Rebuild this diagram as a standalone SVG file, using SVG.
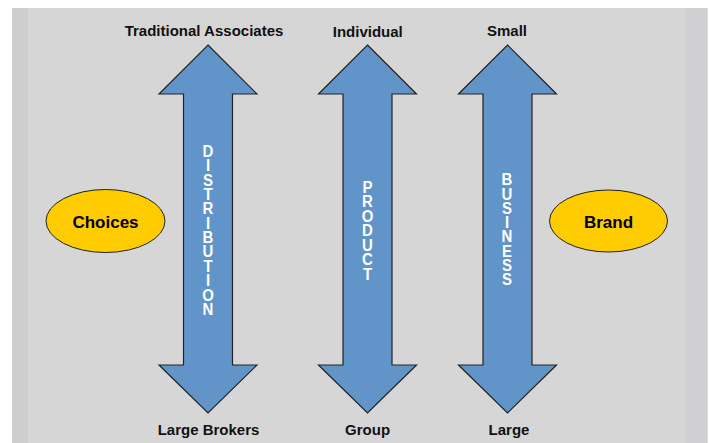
<svg xmlns="http://www.w3.org/2000/svg" width="709" height="443" viewBox="0 0 709 443">
<style>
.lbl{font-family:"Liberation Sans",Arial,sans-serif;font-weight:bold;font-size:15px;fill:#111;text-anchor:middle}
.vert{font-family:"Liberation Sans",Arial,sans-serif;font-weight:bold;font-size:15px;fill:#fff;text-anchor:middle}
.oval{fill:#FFCC00;stroke:#222;stroke-width:1}
.otxt{font-family:"Liberation Sans",Arial,sans-serif;font-weight:bold;font-size:17px;fill:#000;text-anchor:middle}
.arrow{fill:#6194C9;stroke:#222;stroke-width:1.2;stroke-linejoin:miter}
</style>
<defs>
<path id="darrow" class="arrow" d="M0,45 L49,94 L24.5,94 L24.5,365 L49,365 L0,413 L-49,365 L-24.5,365 L-24.5,94 L-49,94 Z"/>
</defs>
<rect x="0" y="0" width="709" height="443" fill="#ffffff"/>
<rect x="12" y="8" width="695.5" height="435" fill="#D6D6D6"/>
<rect x="12" y="8" width="16" height="435" fill="#CECED1"/>
<rect x="685.5" y="8" width="22" height="435" fill="#D0D0D2"/>

<g id="connectors">
<use href="#darrow" x="208" y="0"/>
<use href="#darrow" x="367.5" y="0"/>
<use href="#darrow" x="507.5" y="0"/>
</g>

<g id="distribution">
<text class="vert" transform="translate(208,157) scale(1,1.12)"><tspan x="0" y="0">D</tspan><tspan x="0" dy="12.82">I</tspan><tspan x="0" dy="12.82">S</tspan><tspan x="0" dy="12.82">T</tspan><tspan x="0" dy="12.82">R</tspan><tspan x="0" dy="12.82">I</tspan><tspan x="0" dy="12.82">B</tspan><tspan x="0" dy="12.82">U</tspan><tspan x="0" dy="12.82">T</tspan><tspan x="0" dy="12.82">I</tspan><tspan x="0" dy="12.82">O</tspan><tspan x="0" dy="12.82">N</tspan></text>
<text class="lbl" x="204" y="36">Traditional Associates</text>
<text class="lbl" x="208.5" y="435">Large Brokers</text>
</g>

<g id="product">
<text class="vert" transform="translate(367.5,192.7) scale(1,1.12)"><tspan x="0" y="0">P</tspan><tspan x="0" dy="12.95">R</tspan><tspan x="0" dy="12.95">O</tspan><tspan x="0" dy="12.95">D</tspan><tspan x="0" dy="12.95">U</tspan><tspan x="0" dy="12.95">C</tspan><tspan x="0" dy="12.95">T</tspan></text>
<text class="lbl" x="367.8" y="36.5">Individual</text>
<text class="lbl" x="367.6" y="435">Group</text>
</g>

<g id="business">
<text class="vert" transform="translate(507,185.3) scale(1,1.12)"><tspan x="0" y="0">B</tspan><tspan x="0" dy="12.72">U</tspan><tspan x="0" dy="12.72">S</tspan><tspan x="0" dy="12.72">I</tspan><tspan x="0" dy="12.72">N</tspan><tspan x="0" dy="12.72">E</tspan><tspan x="0" dy="12.72">S</tspan><tspan x="0" dy="12.72">S</tspan></text>
<text class="lbl" x="507" y="36">Small</text>
<text class="lbl" x="509" y="435">Large</text>
</g>

<g id="choices">
<ellipse class="oval" cx="105.5" cy="221" rx="59.5" ry="31.5"/>
<text class="otxt" x="105.5" y="228.3">Choices</text>
</g>

<g id="brand">
<ellipse class="oval" cx="608.5" cy="221" rx="59" ry="31"/>
<text class="otxt" x="608.5" y="228.3">Brand</text>
</g>
</svg>
